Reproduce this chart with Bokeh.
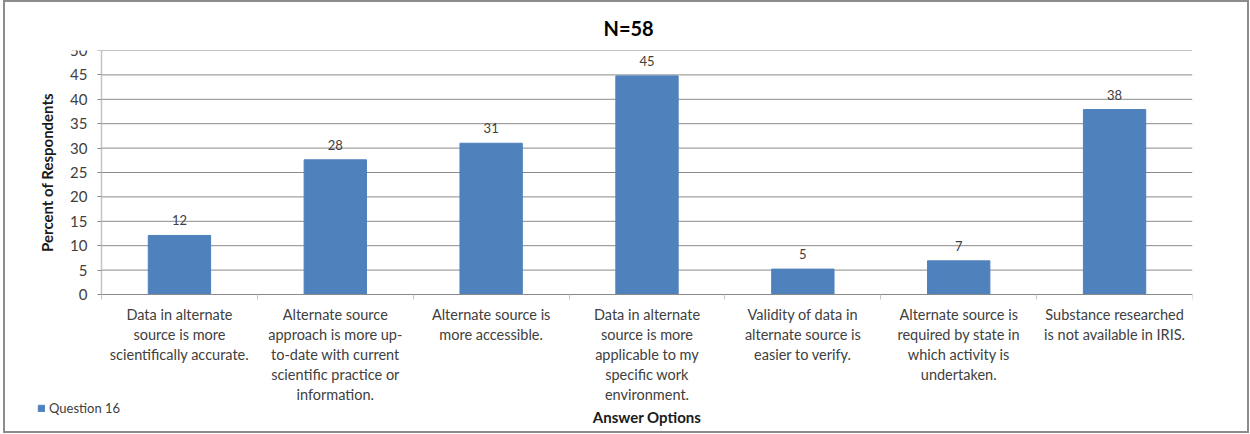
from bokeh.plotting import figure
from bokeh.models import Range1d, FixedTicker, Legend, LegendItem, ColumnDataSource, Title
from bokeh.embed import file_html
from bokeh.resources import INLINE

# Survey answers (percent of respondents, N=58)
categories = [
    "Data in alternate\nsource is more\nscientifically accurate.",
    "Alternate source\napproach is more up-\nto-date with current\nscientific practice or\ninformation.",
    "Alternate source is\nmore accessible.",
    "Data in alternate\nsource is more\napplicable to my\nspecific work\nenvironment.",
    "Validity of data in\nalternate source is\neasier to verify.",
    "Alternate source is\nrequired by state in\nwhich activity is\nundertaken.",
    "Substance researched\nis not available in IRIS.",
]
percent = [12.1, 27.6, 31.0, 44.8, 5.2, 6.9, 37.9]
y_ticks = [0, 5, 10, 15, 20, 25, 30, 35, 40, 45, 50]
title_text = "N=58"
series_name = "Question 16"
x_title = "Answer Options"
y_title = "Percent of Respondents"

# canvas sits inside a 2px border, shifted right by a small margin
OX, OY = 5, 2
W, H = 1242, 429
# plot-area corners (canvas pixels); the drawing frame spans the whole
# lower part of the canvas so that axes, labels and legend share it
PL, PR, PT, PB = 101 - OX, 1192 - OX, 50 - OY, 294 - OY
FRAME_W, FRAME_H = PR, H - PT
FONT = "Lato"
TEXT = "#404040"
BAR = "#4F81BD"
GRID = "#8a8a8a"
CAT_SIZE = 14.5

n = len(categories)
ymax = y_ticks[-1]
x_per_px = n / (PR - PL)
y_per_px = ymax / (PB - PT)

p = figure(frame_width=FRAME_W, frame_height=FRAME_H,
           output_backend="svg", toolbar_location=None,
           x_range=Range1d(-PL * x_per_px, n),
           y_range=Range1d(-(H - PB) * y_per_px, ymax),
           min_border_left=0, min_border_right=W - PR,
           min_border_top=PT, min_border_bottom=0,
           background_fill_color="white", border_fill_color="white",
           margin=(0, 0, 0, OX - 2),
           styles={"border": "2px solid #8c8c8c"})
p.outline_line_color = None
p.xgrid.visible = False
p.ygrid.visible = False

# horizontal gridlines across the plot area only
p.segment(x0=[0] * len(y_ticks), x1=[n] * len(y_ticks), y0=y_ticks, y1=y_ticks,
          line_color=GRID, line_width=1)

# title, placed slightly left of the plot-area centre
p.title = Title(text=title_text, align="left", text_font=FONT,
                text_font_size="20px", text_font_style="bold",
                text_color="#000000", offset=PL + 502, standoff=21)

# y axis pinned at x = 0
p.yaxis.fixed_location = 0
p.yaxis.bounds = (0, ymax)
p.yaxis.ticker = FixedTicker(ticks=y_ticks)
p.yaxis.axis_line_color = "#c4c4c4"
p.yaxis.axis_line_width = 1.5
p.yaxis.major_tick_line_color = GRID
p.yaxis.major_tick_out = 4
p.yaxis.major_tick_in = 0
p.yaxis.minor_tick_line_color = None
p.yaxis.major_label_text_font = FONT
p.yaxis.major_label_text_font_size = "15px"
p.yaxis.major_label_text_color = TEXT
p.yaxis.major_label_standoff = 10
p.yaxis.axis_label = y_title
p.yaxis.axis_label_text_font = FONT
p.yaxis.axis_label_text_font_size = "15px"
p.yaxis.axis_label_text_font_style = "bold"
p.yaxis.axis_label_text_color = "#1a1a1a"
p.yaxis.axis_label_standoff = 11

# x axis pinned at y = 0: labels at category centres, marks at boundaries
xs = [i + 0.5 for i in range(n)]
p.xaxis.fixed_location = 0
p.xaxis.bounds = (0, n)
p.xaxis.ticker = FixedTicker(ticks=xs, minor_ticks=list(range(n + 1)))
p.xaxis.major_label_overrides = {x: c for x, c in zip(xs, categories)}
p.xaxis.axis_line_color = GRID
p.xaxis.major_tick_line_color = None
p.xaxis.major_tick_out = 0
p.xaxis.major_tick_in = 0
p.xaxis.minor_tick_line_color = "#c4c4c4"
p.xaxis.minor_tick_out = 5
p.xaxis.minor_tick_in = 0
p.xaxis.major_label_text_font = FONT
p.xaxis.major_label_text_font_size = "%spx" % CAT_SIZE
p.xaxis.major_label_text_color = TEXT
p.xaxis.major_label_text_line_height = 1.32 * 13 / CAT_SIZE
p.xaxis.major_label_standoff = 6
p.xaxis.axis_label = x_title
p.xaxis.axis_label_text_font = FONT
p.xaxis.axis_label_text_font_size = "15px"
p.xaxis.axis_label_text_font_style = "bold"
p.xaxis.axis_label_text_color = "#1a1a1a"
p.xaxis.axis_label_standoff = 2

src = ColumnDataSource(dict(x=xs, top=percent,
                            label=["%.0f" % v for v in percent]))
bars = p.vbar(x="x", top="top", width=0.4, bottom=0, source=src,
              fill_color=BAR, line_color=BAR)
p.text(x="x", y="top", text="label", source=src, text_align="center",
       text_baseline="middle", y_offset=-15, text_font_size="13px",
       text_color=TEXT, text_font={"value": FONT})

# legend in the lower-left corner
legend = Legend(items=[LegendItem(label=series_name, renderers=[bars])],
                location=(32, 15), orientation="horizontal",
                label_text_font=FONT, label_text_font_size="13px",
                label_text_color=TEXT, glyph_width=8, glyph_height=8,
                label_height=14, label_standoff=4, padding=0, spacing=0,
                margin=0, background_fill_alpha=0, border_line_color=None)
p.add_layout(legend, "center")

open("out.html", "w").write(file_html(p, INLINE))
